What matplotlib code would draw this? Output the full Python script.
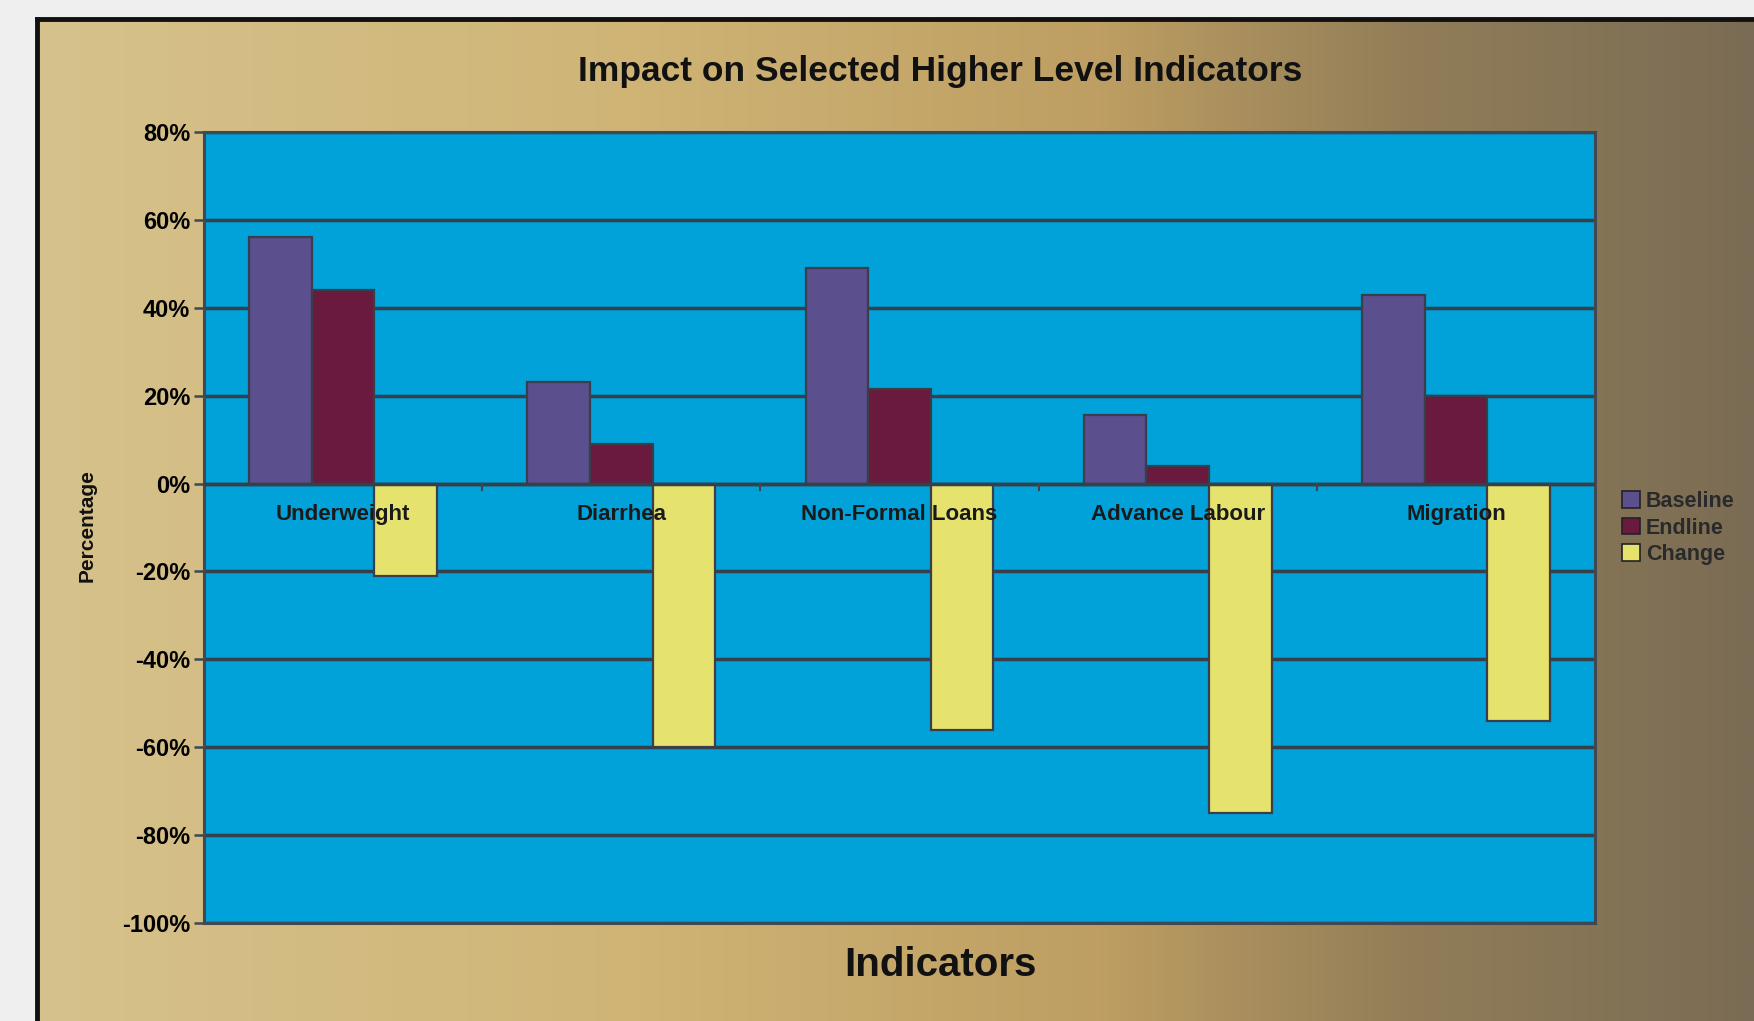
import matplotlib
matplotlib.use('Agg')
import matplotlib.pyplot as plt
from matplotlib.ticker import PercentFormatter
from matplotlib.patches import Patch
import numpy as np

plt.rcParams['font.family'] = ['Liberation Sans', 'DejaVu Sans']
plt.rcParams['axes.unicode_minus'] = False

# data
categories = ['Underweight', 'Diarrhea', 'Non-Formal Loans', 'Advance Labour', 'Migration']
baseline = [0.56, 0.23, 0.49, 0.155, 0.43]
endline = [0.44, 0.09, 0.215, 0.04, 0.20]
change = [-0.21, -0.60, -0.56, -0.75, -0.54]
series_names = ['Baseline', 'Endline', 'Change']
series_colors = ['#5b4f8e', '#6a1a3c', '#e6e26e']
y_ticks = [0.8, 0.6, 0.4, 0.2, 0.0, -0.2, -0.4, -0.6, -0.8, -1.0]

W, H = 1754, 1021
fig = plt.figure(figsize=(W / 100, H / 100), dpi=100)
fig.patch.set_facecolor('#efefef')

# gradient panel behind the chart
bg = fig.add_axes([37 / W, 0, 1 - 37 / W, 1 - 19 / H])
stops = np.array([0.0, 0.35, 0.62, 0.8, 1.0])
cols = np.array([[214, 194, 140], [207, 180, 118], [190, 158, 98],
                 [145, 125, 88], [122, 108, 84]]) / 255.0
xs = np.linspace(0, 1, 600)
grad = np.stack([np.interp(xs, stops, cols[:, k]) for k in range(3)], axis=-1)
bg.imshow(grad[np.newaxis, :, :], aspect='auto', extent=[0, 1, 0, 1])
bg.set_xticks([])
bg.set_yticks([])
for s in ['right', 'bottom']:
    bg.spines[s].set_visible(False)
for s in ['left', 'top']:
    bg.spines[s].set_color('#111111')
    bg.spines[s].set_linewidth(3.5)

# main plot
ax = fig.add_axes([204 / W, 1 - 923 / H, (1595 - 204) / W, (923 - 132) / H])
ax.set_facecolor('#00a2d9')
x = np.arange(len(categories))
w = 0.225
for i, (vals, name, c) in enumerate(zip([baseline, endline, change], series_names, series_colors)):
    ax.bar(x + (i - 1) * w, vals, w, color=c, edgecolor='#3a3d4a', linewidth=1.6,
           label=name, zorder=3)

ax.set_xlim(-0.5, len(categories) - 0.5)
ax.set_ylim(-1.0, 0.8)
ax.set_yticks(y_ticks)
ax.yaxis.set_major_formatter(PercentFormatter(1.0, decimals=0))
ax.tick_params(axis='y', labelsize=17, length=7, width=1.8, color='#404850', pad=3)
for lab in ax.get_yticklabels():
    lab.set_fontweight('bold')
ax.set_xticks([])
ax.yaxis.grid(True, color='#36404b', linewidth=2.5)
ax.set_axisbelow(True)
ax.axhline(0, color='#36404b', linewidth=2.5, zorder=4)
for s in ax.spines.values():
    s.set_color('#3f4853')
    s.set_linewidth(2.2)

# category ticks on the zero line
for b in np.arange(0.5, len(categories) - 0.5, 1.0):
    ax.plot([b, b], [0, -0.015], color='#3b4652', linewidth=1.5, zorder=4)

# category labels just below zero line
for xi, name in zip(x, categories):
    ax.text(xi, -0.07, name, ha='center', va='center', fontsize=16,
            fontweight='bold', color='#1a1a1a', zorder=6)

fig.text(940 / W, 1 - 72 / H, 'Impact on Selected Higher Level Indicators',
         ha='center', va='center', fontsize=25.5, fontweight='bold', color='#111111')
fig.text(940 / W, 1 - 965 / H, 'Indicators', ha='center', va='center',
         fontsize=29, fontweight='bold', color='#111111')
fig.text(87 / W, 1 - 526 / H, 'Percentage', ha='center', va='center',
         rotation=90, fontsize=15, fontweight='bold', color='#111111')

handles = [Patch(facecolor=c, edgecolor='#222222', linewidth=1.2) for c in series_colors]
fig.legend(handles, series_names, loc='center left',
           bbox_to_anchor=(1603 / W, 1 - 528 / H), frameon=False,
           fontsize=15.5, handlelength=0.8, handleheight=0.8, handletextpad=0.3,
           labelspacing=0.25, labelcolor='#2a2a2a', prop={'weight': 'bold', 'size': 15.5})

fig.savefig('out.png', dpi=100, facecolor=fig.get_facecolor())
